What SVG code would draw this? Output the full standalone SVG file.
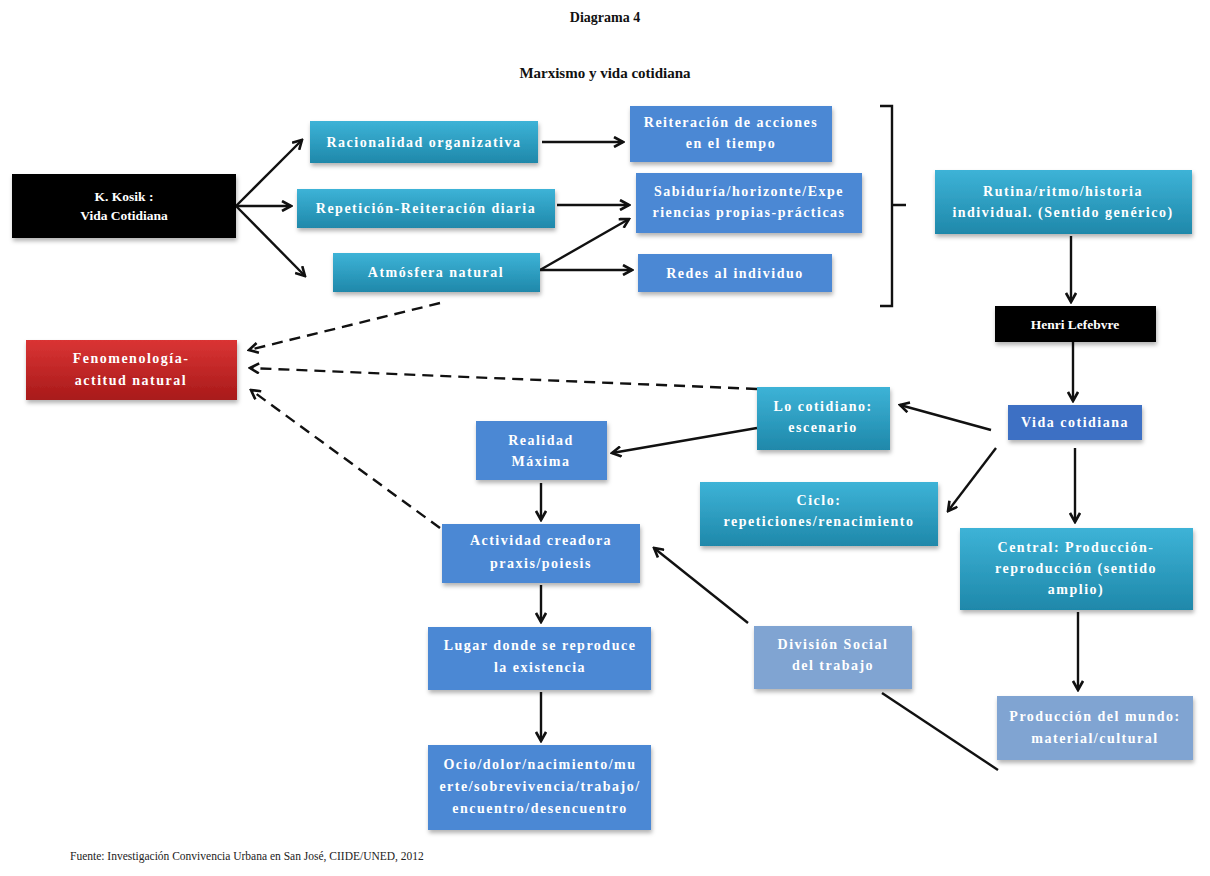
<svg xmlns="http://www.w3.org/2000/svg" width="1210" height="876" viewBox="0 0 1210 876">
  <style>
    .title { font-family: "Liberation Serif", "Times New Roman", serif; font-weight: bold; fill: #111; text-anchor: middle; }
    .lbl { font-family: "Liberation Serif", "Times New Roman", serif; font-weight: bold; font-size: 14px; letter-spacing: 1.5px; fill: #fff; text-anchor: middle; }
    .lbl.k { font-size: 13.5px; letter-spacing: 0; }
    .foot { font-family: "Liberation Serif", "Times New Roman", serif; font-size: 11.5px; fill: #222; }
    .box { filter: url(#shadow); }
    .teal { fill: url(#gTeal); }
    .blue { fill: #4b88d4; }
    .dblue { fill: #3c70c4; }
    .pale { fill: #80a4d2; }
    .black { fill: #000; }
    .red { fill: url(#gRed); }
    .ln { stroke: #111; stroke-width: 2.4; fill: none; }
    .arw { marker-end: url(#head); }
    .dash { stroke-dasharray: 11 7; }
  </style>
  <defs>
    <linearGradient id="gTeal" x1="0" y1="0" x2="0" y2="1">
      <stop offset="0" stop-color="#3db3d7"/>
      <stop offset="1" stop-color="#1f88aa"/>
    </linearGradient>
    <linearGradient id="gRed" x1="0" y1="0" x2="0" y2="1">
      <stop offset="0" stop-color="#da3434"/>
      <stop offset="1" stop-color="#a81a1a"/>
    </linearGradient>
    <filter id="shadow" x="-10%" y="-20%" width="120%" height="150%">
      <feDropShadow dx="1" dy="3" stdDeviation="2" flood-color="#000" flood-opacity="0.3"/>
    </filter>
    <marker id="head" viewBox="0 0 12 12" refX="10" refY="6" markerWidth="12" markerHeight="12" markerUnits="userSpaceOnUse" orient="auto">
      <path d="M1,1 L10,6 L1,11" fill="none" stroke="#111" stroke-width="2.6"/>
    </marker>
  </defs>

  <!-- titles -->
  <text class="title" x="605" y="22" font-size="14">Diagrama 4</text>
  <text class="title" x="605" y="78" font-size="15">Marxismo y vida cotidiana</text>

  <!-- connectors -->
  <g id="connectors">
    <line class="ln arw" x1="236" y1="206" x2="302" y2="140"/>
    <line class="ln arw" x1="236" y1="206" x2="291" y2="206"/>
    <line class="ln arw" x1="236" y1="206" x2="305" y2="276"/>
    <line class="ln arw" x1="542" y1="142" x2="623" y2="142"/>
    <line class="ln arw" x1="557" y1="205" x2="629" y2="205"/>
    <line class="ln arw" x1="540" y1="270" x2="629" y2="219"/>
    <line class="ln arw" x1="540" y1="270" x2="632" y2="270"/>
    <!-- bracket -->
    <path class="ln" d="M880,106 H892 V306 H880 M892,205 H906"/>
    <line class="ln arw" x1="1071" y1="236" x2="1071" y2="302"/>
    <line class="ln arw" x1="1073" y1="342" x2="1073" y2="401"/>
    <line class="ln arw" x1="991" y1="430" x2="900" y2="405"/>
    <line class="ln arw" x1="996" y1="448" x2="948" y2="511"/>
    <line class="ln arw" x1="1075" y1="448" x2="1075" y2="522"/>
    <line class="ln arw" x1="1078" y1="612" x2="1078" y2="690"/>
    <line class="ln arw" x1="757" y1="428" x2="612" y2="453"/>
    <line class="ln arw" x1="541" y1="483" x2="541" y2="520"/>
    <line class="ln arw" x1="541" y1="585" x2="541" y2="622"/>
    <line class="ln arw" x1="541" y1="692" x2="541" y2="741"/>
    <line class="ln arw" x1="748" y1="623" x2="654" y2="548"/>
    <line class="ln" x1="882" y1="693" x2="998" y2="770"/>
    <!-- dashed links to Fenomenología -->
    <line class="ln arw dash" x1="440" y1="303" x2="249" y2="350"/>
    <line class="ln arw dash" x1="757" y1="389" x2="250" y2="368"/>
    <line class="ln arw dash" x1="440" y1="528" x2="251" y2="390"/>
  </g>

  <!-- nodes -->
  <g id="kosik">
    <rect class="box black" x="12" y="174" width="224" height="64"/>
    <text class="lbl k" x="124" y="201">K. Kosik :</text>
    <text class="lbl k" x="124" y="220">Vida Cotidiana</text>
  </g>
  <g id="racionalidad">
    <rect class="box teal" x="310" y="121" width="228" height="42"/>
    <text class="lbl" x="424" y="147">Racionalidad organizativa</text>
  </g>
  <g id="repeticion">
    <rect class="box teal" x="297" y="189" width="258" height="39"/>
    <text class="lbl" x="426" y="213" letter-spacing="2.6">Repetición-Reiteración diaria</text>
  </g>
  <g id="atmosfera">
    <rect class="box teal" x="333" y="253" width="207" height="39"/>
    <text class="lbl" x="436" y="277">Atmósfera natural</text>
  </g>
  <g id="reiteracion">
    <rect class="box blue" x="630" y="106" width="202" height="56"/>
    <text class="lbl" x="731" y="127">Reiteración de acciones</text>
    <text class="lbl" x="731" y="148">en el tiempo</text>
  </g>
  <g id="sabiduria">
    <rect class="box blue" x="636" y="173" width="226" height="60"/>
    <text class="lbl" x="749" y="196">Sabiduría/horizonte/Expe</text>
    <text class="lbl" x="749" y="217">riencias propias-prácticas</text>
  </g>
  <g id="redes">
    <rect class="box blue" x="638" y="254" width="194" height="38"/>
    <text class="lbl" x="735" y="278">Redes al individuo</text>
  </g>
  <g id="rutina">
    <rect class="box teal" x="935" y="170" width="257" height="64"/>
    <text class="lbl" x="1063" y="196">Rutina/ritmo/historia</text>
    <text class="lbl" x="1063" y="217">individual. (Sentido genérico)</text>
  </g>
  <g id="lefebvre">
    <rect class="box black" x="995" y="306" width="161" height="36"/>
    <text class="lbl k" x="1075" y="329">Henri Lefebvre</text>
  </g>
  <g id="vida">
    <rect class="box dblue" x="1008" y="405" width="134" height="35"/>
    <text class="lbl" x="1075" y="427">Vida cotidiana</text>
  </g>
  <g id="escenario">
    <rect class="box teal" x="757" y="387" width="133" height="63"/>
    <text class="lbl" x="823" y="411">Lo cotidiano:</text>
    <text class="lbl" x="823" y="432">escenario</text>
  </g>
  <g id="realidad">
    <rect class="box blue" x="476" y="421" width="131" height="59"/>
    <text class="lbl" x="541" y="445">Realidad</text>
    <text class="lbl" x="541" y="466">Máxima</text>
  </g>
  <g id="ciclo">
    <rect class="box teal" x="700" y="482" width="238" height="64"/>
    <text class="lbl" x="819" y="505">Ciclo:</text>
    <text class="lbl" x="819" y="526">repeticiones/renacimiento</text>
  </g>
  <g id="central">
    <rect class="box teal" x="960" y="528" width="233" height="82"/>
    <text class="lbl" x="1076" y="552">Central: Producción-</text>
    <text class="lbl" x="1076" y="573">reproducción (sentido</text>
    <text class="lbl" x="1076" y="594">amplio)</text>
  </g>
  <g id="fenomenologia">
    <rect class="box red" x="26" y="340" width="211" height="60"/>
    <text class="lbl" x="131" y="363">Fenomenología-</text>
    <text class="lbl" x="131" y="385">actitud natural</text>
  </g>
  <g id="actividad">
    <rect class="box blue" x="442" y="524" width="198" height="59"/>
    <text class="lbl" x="541" y="545">Actividad creadora</text>
    <text class="lbl" x="541" y="568">praxis/poiesis</text>
  </g>
  <g id="lugar">
    <rect class="box blue" x="428" y="627" width="223" height="63"/>
    <text class="lbl" x="540" y="650">Lugar donde se reproduce</text>
    <text class="lbl" x="540" y="672">la existencia</text>
  </g>
  <g id="ocio">
    <rect class="box blue" x="428" y="745" width="223" height="85"/>
    <text class="lbl" x="540" y="769">Ocio/dolor/nacimiento/mu</text>
    <text class="lbl" x="540" y="791">erte/sobrevivencia/trabajo/</text>
    <text class="lbl" x="540" y="813">encuentro/desencuentro</text>
  </g>
  <g id="division">
    <rect class="box pale" x="754" y="626" width="158" height="63"/>
    <text class="lbl" x="833" y="649">División Social</text>
    <text class="lbl" x="833" y="670">del trabajo</text>
  </g>
  <g id="produccion">
    <rect class="box pale" x="997" y="696" width="196" height="64"/>
    <text class="lbl" x="1095" y="721">Producción del mundo:</text>
    <text class="lbl" x="1095" y="743">material/cultural</text>
  </g>

  <!-- source note -->
  <text class="foot" x="70" y="860">Fuente: Investigación Convivencia Urbana en San José, CIIDE/UNED, 2012</text>
</svg>
